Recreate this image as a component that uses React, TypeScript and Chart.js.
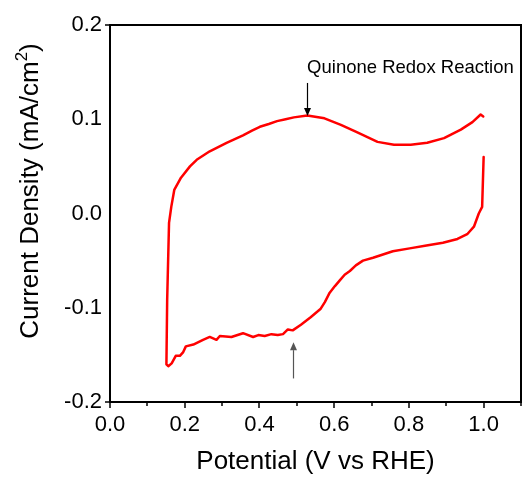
import React, { useEffect, useRef } from "react";
import { Chart, registerables } from "chart.js";

Chart.register(...registerables);

// Cyclic voltammogram trace (in recorded order)
const potential = [
  1.0, 0.996, 0.987, 0.974, 0.956, 0.93, 0.891, 0.847, 0.802, 0.757, 0.704, 0.677, 0.658, 0.642, 0.628,
  0.615, 0.602, 0.588, 0.575, 0.564, 0.537, 0.511, 0.489, 0.476, 0.463, 0.449, 0.432, 0.414, 0.397, 0.383,
  0.356, 0.325, 0.294, 0.285, 0.267, 0.249, 0.223, 0.203, 0.196, 0.187, 0.176, 0.165, 0.156, 0.151, 0.153,
  0.158, 0.164, 0.172, 0.19, 0.214, 0.232, 0.267, 0.312, 0.356, 0.38, 0.401, 0.425, 0.447, 0.47, 0.492, 0.528,
  0.574, 0.618, 0.662, 0.716, 0.76, 0.805, 0.849, 0.894, 0.939, 0.97, 0.992, 0.999,
];
const current = [
  0.06, 0.007, 0.0, -0.014, -0.022, -0.027, -0.031, -0.034, -0.037, -0.04, -0.047, -0.05, -0.055, -0.061, -0.065,
  -0.071, -0.077, -0.084, -0.094, -0.101, -0.11, -0.118, -0.124, -0.123, -0.128, -0.129, -0.128, -0.13, -0.129, -0.131,
  -0.127, -0.131, -0.13, -0.134, -0.131, -0.134, -0.139, -0.141, -0.147, -0.151, -0.151, -0.159, -0.162, -0.16, -0.092,
  -0.01, 0.007, 0.025, 0.038, 0.05, 0.057, 0.066, 0.075, 0.083, 0.088, 0.092, 0.095, 0.098, 0.1, 0.102, 0.104,
  0.101, 0.094, 0.086, 0.076, 0.073, 0.073, 0.075, 0.08, 0.089, 0.097, 0.105, 0.103,
];

const xTitle = "Potential (V vs RHE)";
const yTitleMain = "Current Density (mA/cm";
const yTitleSup = "2";
const yTitleEnd = ")";
const annotationText = "Quinone Redox Reaction";
// annotation arrows: [x, yFrom, yTo] in data units
const topArrow = [0.528, 0.1385, 0.1035];
const bottomArrow = [0.489, -0.175, -0.1365];
const annotationPos = [0.5275, 0.1545];

const FONT = "'Liberation Sans', Arial, sans-serif";

function drawArrow(ctx: CanvasRenderingContext2D, x: number, y1: number, y2: number, color: string) {
  const dir = y2 > y1 ? 1 : -1;
  const headLen = 8;
  const headW = 3.5;
  ctx.save();
  ctx.strokeStyle = color;
  ctx.fillStyle = color;
  ctx.lineWidth = 1.2;
  ctx.beginPath();
  ctx.moveTo(x, y1);
  ctx.lineTo(x, y2 - dir * headLen);
  ctx.stroke();
  ctx.beginPath();
  ctx.moveTo(x, y2);
  ctx.lineTo(x - headW, y2 - dir * headLen);
  ctx.lineTo(x + headW, y2 - dir * headLen);
  ctx.closePath();
  ctx.fill();
  ctx.restore();
}

const framePlugin = {
  id: "frameAndText",
  afterDraw(chart: any) {
    const { ctx, chartArea: a, scales } = chart;
    const xs = scales.x;
    const ys = scales.y;
    ctx.save();
    // frame
    ctx.strokeStyle = "#000";
    ctx.lineWidth = 2;
    ctx.strokeRect(a.left, a.top, a.right - a.left, a.bottom - a.top);
    // x ticks
    ctx.lineWidth = 1.5;
    xs.ticks.forEach((t: any) => {
      const px = Math.round(xs.getPixelForValue(t.value));
      const major = Math.round(t.value * 10) % 2 === 0;
      const len = major ? 6 : 4;
      ctx.beginPath();
      ctx.moveTo(px, a.bottom);
      ctx.lineTo(px, a.bottom + len);
      ctx.stroke();
    });
    // y ticks (only at ends)
    [ys.min, ys.max].forEach((v: number) => {
      const py = ys.getPixelForValue(v);
      ctx.beginPath();
      ctx.moveTo(a.left, py);
      ctx.lineTo(a.left - 5, py);
      ctx.stroke();
    });

    // x title
    ctx.fillStyle = "#000";
    ctx.font = `26px ${FONT}`;
    ctx.textAlign = "center";
    ctx.textBaseline = "middle";
    ctx.fillText(xTitle, (a.left + a.right) / 2, 462);

    // y title with superscript
    ctx.save();
    ctx.translate(31, 191);
    ctx.rotate(-Math.PI / 2);
    ctx.textAlign = "left";
    ctx.textBaseline = "middle";
    ctx.font = `26px ${FONT}`;
    const w1 = ctx.measureText(yTitleMain).width;
    const w3 = ctx.measureText(yTitleEnd).width;
    ctx.font = `17px ${FONT}`;
    const w2 = ctx.measureText(yTitleSup).width;
    const total = w1 + w2 + w3;
    let cx = -total / 2;
    ctx.font = `26px ${FONT}`;
    ctx.fillText(yTitleMain, cx, 0);
    cx += w1;
    ctx.font = `17px ${FONT}`;
    ctx.fillText(yTitleSup, cx, -9);
    cx += w2;
    ctx.font = `26px ${FONT}`;
    ctx.fillText(yTitleEnd, cx, 0);
    ctx.restore();

    // annotation
    ctx.font = `18.5px ${FONT}`;
    ctx.textAlign = "left";
    ctx.textBaseline = "middle";
    ctx.fillStyle = "#000";
    ctx.fillText(annotationText, xs.getPixelForValue(annotationPos[0]), ys.getPixelForValue(annotationPos[1]));

    drawArrow(
      ctx,
      Math.round(xs.getPixelForValue(topArrow[0])) + 0.5,
      ys.getPixelForValue(topArrow[1]),
      ys.getPixelForValue(topArrow[2]),
      "#000"
    );
    drawArrow(
      ctx,
      Math.round(xs.getPixelForValue(bottomArrow[0])) + 0.5,
      ys.getPixelForValue(bottomArrow[1]),
      ys.getPixelForValue(bottomArrow[2]),
      "#555"
    );
    ctx.restore();
  },
};

export default function App() {
  const ref = useRef<HTMLCanvasElement | null>(null);
  useEffect(() => {
    document.body.style.margin = "0";
    const canvas = ref.current;
    if (!canvas) return;
    const data = potential.map((x, i) => ({ x, y: current[i] }));
    const chart = new Chart(canvas, {
      type: "scatter",
      data: {
        datasets: [
          {
            data,
            showLine: true,
            borderColor: "#ff0000",
            borderWidth: 2.5,
            borderJoinStyle: "round",
            borderCapStyle: "round",
            pointRadius: 0,
            tension: 0,
            fill: false,
          },
        ],
      },
      options: {
        animation: false,
        responsive: true,
        maintainAspectRatio: false,
        layout: { padding: { top: 25, right: 1, left: 0, bottom: 0 } },
        plugins: { legend: { display: false }, tooltip: { enabled: false } },
        scales: {
          x: {
            type: "linear",
            min: 0,
            max: 1.1,
            afterFit: (s: any) => {
              s.height = 77;
              s.paddingLeft = 0;
              s.paddingRight = 0;
            },
            grid: { display: true, drawOnChartArea: false, drawTicks: false },
            border: { display: false },
            ticks: {
              stepSize: 0.1,
              autoSkip: false,
              maxRotation: 0,
              padding: 10,
              color: "#000",
              font: { family: FONT, size: 22 },
              callback: (v: any) => {
                const n = Math.round(Number(v) * 10);
                return n % 2 === 0 ? (n / 10).toFixed(1) : "";
              },
            },
          },
          y: {
            type: "linear",
            min: -0.2,
            max: 0.2,
            afterFit: (s: any) => {
              s.width = 110;
              s.paddingTop = 0;
              s.paddingBottom = 0;
            },
            grid: { display: true, drawOnChartArea: false, drawTicks: false },
            border: { display: false },
            ticks: {
              stepSize: 0.1,
              autoSkip: false,
              padding: 8,
              color: "#000",
              font: { family: FONT, size: 22 },
              callback: (v: any) => (Math.round(Number(v) * 10) / 10).toFixed(1),
            },
          },
        },
      },
      plugins: [framePlugin],
    });
    return () => chart.destroy();
  }, []);
  return (
    <div style={{ width: 522, height: 479, position: "relative" }}>
      <canvas ref={ref} />
    </div>
  );
}
